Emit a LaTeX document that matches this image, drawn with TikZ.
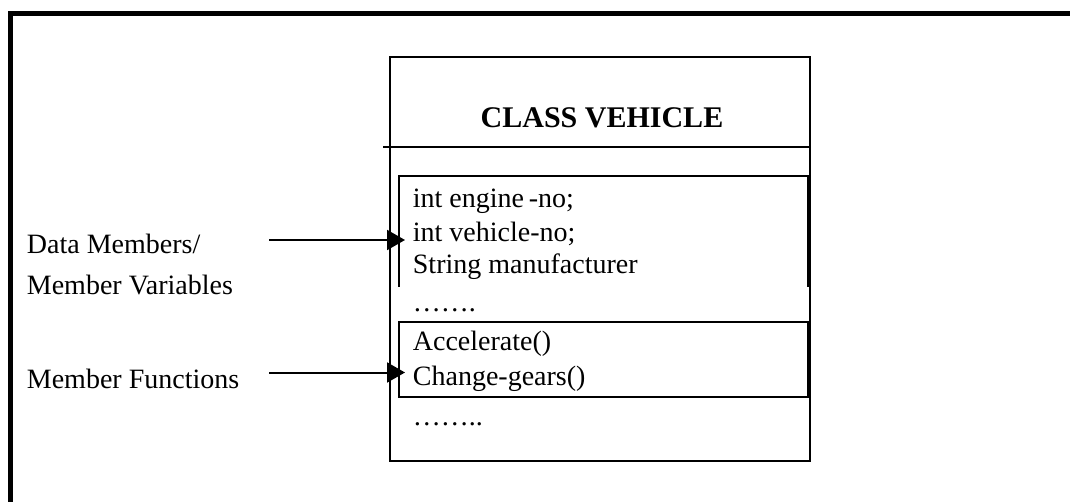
\documentclass[tikz,border=0pt]{standalone}
\usepackage{fontspec}
\setmainfont{Liberation Serif}
\usetikzlibrary{arrows.meta}
\tikzset{
  txt/.style={anchor=base west, inner sep=0pt, font=\fontsize{28}{33}\selectfont},
  title/.style={anchor=base, inner sep=0pt, font=\fontsize{30}{36}\selectfont\bfseries},
  boxline/.style={line width=2pt},
  frame/.style={line width=5pt},
  pointer/.style={line width=2pt, -{Triangle[length=18pt,width=20pt]}}
}
\begin{document}
\begin{tikzpicture}[x=1pt,y=-1pt]
  \useasboundingbox (0,0) rectangle (1070,502);
  % outer frame: top and left edges only
  \draw[frame] (10.3,502) -- (10.3,13.8) -- (1070,13.8);

  % class box
  \draw[boxline] (389.5,56.7) rectangle (810,460.7);
  \draw[boxline] (383,146.7) -- (810,146.7);
  \node[title] (cls) at (602,128) {CLASS VEHICLE};

  % data members box (open at the bottom)
  \draw[boxline] (399,287) -- (399,175.7) -- (808.3,175.7) -- (808.3,287);
  \node[txt] (d1) at (412.7,208) {int engine\,-no;};
  \node[txt] (d2) at (412.7,241.5) {int vehicle-no;};
  \node[txt] (d3) at (412.7,273.5) {String manufacturer};
  \node[txt] (dots1) at (412.7,312) {…….};

  % member functions box
  \draw[boxline] (399,321.7) rectangle (808.3,397.3);
  \node[txt] (f1) at (412.7,350.7) {Accelerate()};
  \node[txt] (f2) at (412.7,385) {Change-gears()};
  \node[txt] (dots2) at (412.7,425.7) {……..};

  % labels on the left
  \node[txt] (lbl1) at (26.7,254) {Data Members/};
  \node[txt] (lbl1b) at (26.7,295) {Member Variables};
  \node[txt] (lbl2) at (26.7,388) {Member Functions};

  % pointers
  \coordinate (a1s) at (269,240);
  \coordinate (a1e) at (405,240);
  \coordinate (a2s) at (269,372.5);
  \coordinate (a2e) at (405,372.5);
  \draw[pointer] (a1s) -- (a1e);
  \draw[pointer] (a2s) -- (a2e);
\end{tikzpicture}
\end{document}
